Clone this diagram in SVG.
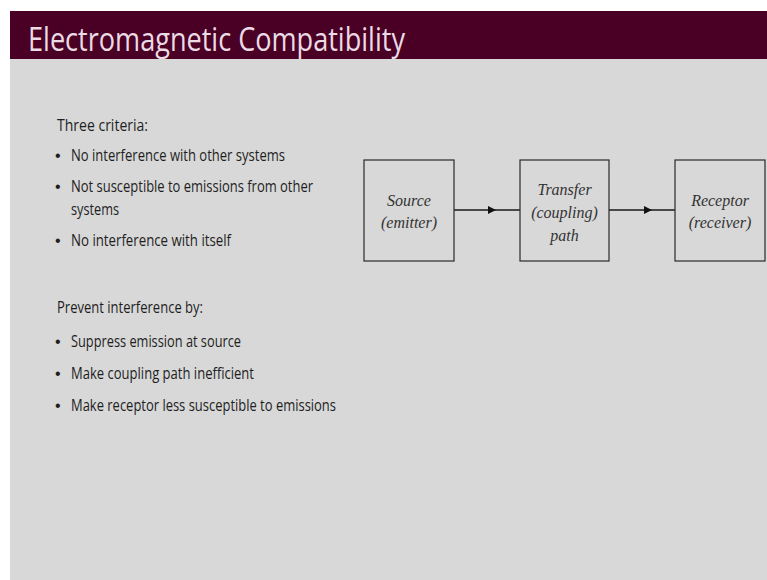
<svg xmlns="http://www.w3.org/2000/svg" width="767" height="580" viewBox="0 0 767 580">
<defs>
<style>
.body{font-family:"Open Sans","Liberation Sans",sans-serif;font-size:15.5px;fill:#1e1e1e}
.bul{font-family:"Liberation Sans",sans-serif;font-size:16px;fill:#1e1e1e}
.box{fill:#d8d8d8;stroke:#2a2a2a;stroke-width:1.2}
.lbl{font-family:"Liberation Serif",serif;font-style:italic;font-size:16px;fill:#333;text-anchor:middle}
.conn{stroke:#1a1a1a;stroke-width:1.4;fill:none}
</style>
<marker id="arr" viewBox="0 0 10 10" refX="5" refY="5" markerWidth="11" markerHeight="8" markerUnits="userSpaceOnUse" orient="auto">
<path d="M0,0 L10,5 L0,10 Z" fill="#111"/>
</marker>
</defs>
<rect x="0" y="0" width="767" height="580" fill="#ffffff"/>
<rect x="10" y="59" width="757" height="521" fill="#d8d8d8"/>
<rect x="10" y="11" width="757" height="48" fill="#4a0024"/>
<text x="28" y="51" font-family="'Open Sans','Liberation Sans',sans-serif" font-size="32" fill="#eadbe4" textLength="377" lengthAdjust="spacingAndGlyphs">Electromagnetic Compatibility</text>
<g id="text">
<text class="body" x="57" y="131" textLength="91" lengthAdjust="spacingAndGlyphs">Three criteria:</text>
<text class="bul" x="55" y="161">•</text>
<text class="body" x="71" y="161" textLength="214" lengthAdjust="spacingAndGlyphs">No interference with other systems</text>
<text class="bul" x="55" y="192">•</text>
<text class="body" x="71" y="192" textLength="242" lengthAdjust="spacingAndGlyphs">Not susceptible to emissions from other</text>
<text class="body" x="71" y="215" textLength="48" lengthAdjust="spacingAndGlyphs">systems</text>
<text class="bul" x="55" y="246">•</text>
<text class="body" x="71" y="246" textLength="160" lengthAdjust="spacingAndGlyphs">No interference with itself</text>
<text class="body" x="57" y="313" textLength="146" lengthAdjust="spacingAndGlyphs">Prevent interference by:</text>
<text class="bul" x="55" y="347">•</text>
<text class="body" x="71" y="347" textLength="170" lengthAdjust="spacingAndGlyphs">Suppress emission at source</text>
<text class="bul" x="55" y="379">•</text>
<text class="body" x="71" y="379" textLength="183" lengthAdjust="spacingAndGlyphs">Make coupling path inefficient</text>
<text class="bul" x="55" y="411">•</text>
<text class="body" x="71" y="411" textLength="265" lengthAdjust="spacingAndGlyphs">Make receptor less susceptible to emissions</text>
</g>
<g id="connectors">
<path class="conn" d="M454,210 L492,210 L520,210" marker-mid="url(#arr)"/>
<path class="conn" d="M609,210 L648,210 L675,210" marker-mid="url(#arr)"/>
</g>
<g id="source">
<rect class="box" x="364" y="160" width="90" height="101"/>
<text class="lbl" x="409" y="206">Source</text>
<text class="lbl" x="409" y="228">(emitter)</text>
</g>
<g id="transfer">
<rect class="box" x="520" y="160" width="89" height="101"/>
<text class="lbl" x="564.5" y="195">Transfer</text>
<text class="lbl" x="564.5" y="218">(coupling)</text>
<text class="lbl" x="564.5" y="241">path</text>
</g>
<g id="receptor">
<rect class="box" x="675" y="160" width="90" height="101"/>
<text class="lbl" x="720" y="206">Receptor</text>
<text class="lbl" x="720" y="228">(receiver)</text>
</g>
</svg>
